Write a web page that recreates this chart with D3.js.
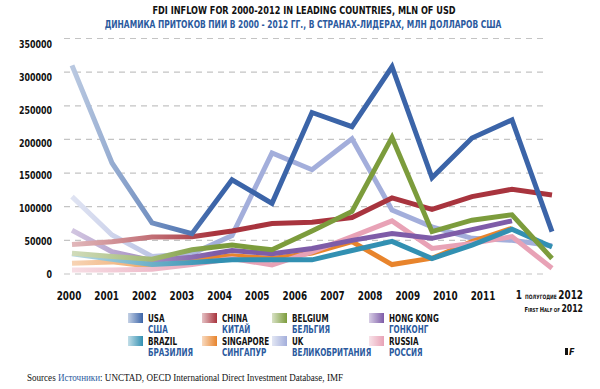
<!DOCTYPE html>
<html><head><meta charset="utf-8">
<script src="https://cdn.jsdelivr.net/npm/d3@7"></script>
<style>body{margin:0;background:#fff}svg{display:block}</style>
</head><body><svg id="c" width="600" height="389"></svg>
<script>
// ---- data ----
const years = ["2000","2001","2002","2003","2004","2005","2006","2007","2008","2009","2010","2011","2012"];
const xTickLabels = ["2000","2001","2002","2003","2004","2005","2006","2007","2008","2009","2010","2011"];
const yTicks = [0,50000,100000,150000,200000,250000,300000,350000];
const usa       = [310000,165000,76000,60000,140000,105000,240000,219000,308000,143000,202000,229000,63000];
const china     = [44000,48000,55000,55500,64000,75000,77000,84000,113000,96000,115000,126000,117500];
const belgium   = [31000,26000,22000,36000,43000,36000,64000,93000,203000,63000,80000,88000,23000];
const hongKong  = [65000,33000,20000,25000,35000,30000,38000,50000,60000,53000,66000,79000,null];
const brazil    = [30000,22000,14000,17000,21000,21000,21000,35000,48500,23000,43000,66500,40000];
const singapore = [16000,18000,11000,21000,27000,23000,31000,48000,14000,23500,48000,68000,null];
const uk        = [115000,58000,26000,30000,57000,180000,155000,201000,95000,70000,53000,50000,42000];
const russia    = [6000,6000,7000,14000,23000,13500,33000,55500,79000,38000,45500,55500,8500];
const namesEn = ["USA","CHINA","BELGIUM","HONG KONG","BRAZIL","SINGAPORE","UK","RUSSIA"];
const namesRu = ["США","КИТАЙ","БЕЛЬГИЯ","ГОНКОНГ","БРАЗИЛИЯ","СИНГАПУР","ВЕЛИКОБРИТАНИЯ","РОССИЯ"];
const colors  = ["#3b64a8","#a8343e","#7c9c3c","#7e5ca8","#3290b2","#e8842c","#a3aedb","#e8a2b6"];
const values  = [usa,china,belgium,hongKong,brazil,singapore,uk,russia];
// drawing order (bottom to top)
const drawOrder = [6,5,7,3,4,1,2,0];

const svg = d3.select("#c");
const COND = "'DejaVu Sans Condensed','DejaVu Sans',sans-serif";
const BLUE = "#2b5a9e";

const x = d3.scalePoint().domain(years).range([72,552]);
const xLab = d3.scalePoint().domain(xTickLabels).range([69,483]);
const y = d3.scaleLinear().domain([0,350000]).range([274,38.5]);
const yLab = d3.scaleLinear().domain([0,350000]).range([274,44]);

// title
svg.append("text").attr("transform","translate(304,13.5) scale(0.72,1)").attr("text-anchor","middle")
  .attr("font-family",COND).attr("font-weight","bold").attr("font-size",11)
  .attr("textLength",421).attr("lengthAdjust","spacingAndGlyphs").attr("fill","#111")
  .text("FDI INFLOW FOR 2000-2012 IN LEADING COUNTRIES, MLN OF USD");
svg.append("text").attr("transform","translate(303,27.5) scale(0.72,1)").attr("text-anchor","middle")
  .attr("font-family",COND).attr("font-weight","bold").attr("font-size",11)
  .attr("textLength",551).attr("lengthAdjust","spacingAndGlyphs").attr("fill",BLUE)
  .text("ДИНАМИКА ПРИТОКОВ ПИИ В 2000 - 2012 ГГ., В СТРАНАХ-ЛИДЕРАХ, МЛН ДОЛЛАРОВ США");

// gridlines
svg.append("g").selectAll("line").data(yTicks).join("line")
  .attr("x1",64).attr("x2",548).attr("y1",d=>y(d)).attr("y2",d=>y(d))
  .attr("stroke","#c4c4c4").attr("stroke-width",1.2).attr("stroke-dasharray","6,5");

// y labels
svg.append("g").selectAll("text").data(yTicks).join("text")
  .attr("transform",d=>`translate(52,${yLab(d)}) scale(0.8,1)`)
  .attr("dy","0.36em").attr("text-anchor","end")
  .attr("font-family",COND).attr("font-weight","bold").attr("font-size",11).attr("fill","#111")
  .text(d=>d);

// x labels
svg.append("g").selectAll("text").data(xTickLabels).join("text")
  .attr("transform",d=>`translate(${xLab(d)},300) scale(0.82,1)`).attr("text-anchor","middle")
  .attr("font-family",COND).attr("font-weight","bold").attr("font-size",12).attr("fill","#111")
  .text(d=>d);
const t1 = svg.append("text").attr("transform","translate(583,299) scale(0.82,1)").attr("text-anchor","end")
  .attr("font-family",COND).attr("font-weight","bold").attr("fill","#111");
t1.append("tspan").attr("font-size",12).text("1 ");
t1.append("tspan").attr("font-size",6).text("ПОЛУГОДИЕ ");
t1.append("tspan").attr("font-size",12).text("2012");
const t2 = svg.append("text").attr("transform","translate(583,312) scale(0.82,1)").attr("text-anchor","end")
  .attr("font-family",COND).attr("font-weight","bold").attr("fill","#111");
t2.append("tspan").attr("font-size",7).text("F");
t2.append("tspan").attr("font-size",5.5).text("IRST ");
t2.append("tspan").attr("font-size",7).text("H");
t2.append("tspan").attr("font-size",5.5).text("ALF OF ");
t2.append("tspan").attr("font-size",10.5).text("2012");

// gradients
const defs = svg.append("defs");
colors.forEach((c,i)=>{
  const g = defs.append("linearGradient").attr("id","lg"+i)
    .attr("gradientUnits","userSpaceOnUse").attr("x1",72).attr("x2",215).attr("y1",0).attr("y2",0);
  g.append("stop").attr("offset",0).attr("stop-color",d3.interpolateRgb("#fff",c)(0.35));
  g.append("stop").attr("offset",1).attr("stop-color",c);
  const s = defs.append("linearGradient").attr("id","sg"+i).attr("x1",0).attr("x2",1).attr("y1",0).attr("y2",0);
  s.append("stop").attr("offset",0).attr("stop-color",d3.interpolateRgb("#fff",c)(0.3));
  s.append("stop").attr("offset",1).attr("stop-color",c);
});

// lines
const line = d3.line().defined(d=>d!=null).x((d,i)=>x(years[i])).y(d=>y(d));
svg.append("g").selectAll("path").data(drawOrder).join("path")
  .attr("d",i=>line(values[i])).attr("fill","none")
  .attr("stroke",i=>`url(#lg${i})`).attr("stroke-width",5)
  .attr("stroke-linejoin","miter").attr("stroke-miterlimit",4);

// legend
const colX = [128,202,272,369];
const rowY = [313,336];
const lg = svg.append("g");
namesEn.forEach((n,i)=>{
  const cx = colX[i%4], ry = rowY[Math.floor(i/4)];
  lg.append("rect").attr("x",cx).attr("y",ry).attr("width",15).attr("height",10).attr("fill",`url(#sg${i})`);
  lg.append("text").attr("transform",`translate(${cx+20},${ry+8.5}) scale(0.8,1)`)
    .attr("font-family",COND).attr("font-weight","bold")
    .attr("font-size",10).attr("fill","#111").text(n);
  lg.append("text").attr("transform",`translate(${cx+20},${ry+19.5}) scale(0.8,1)`)
    .attr("font-family",COND).attr("font-weight","bold")
    .attr("font-size",10).attr("fill",BLUE).text(namesRu[i]);
});

// source
const src = svg.append("text").attr("x",27).attr("y",381).attr("font-family","'Liberation Serif',serif")
  .attr("font-size",9.5).attr("fill","#111").attr("textLength",316).attr("lengthAdjust","spacingAndGlyphs");
src.append("tspan").text("Sources ");
src.append("tspan").attr("fill",BLUE).text("Источники");
src.append("tspan").text(": UNCTAD, OECD International Direct Investment Database, IMF");

// logo
svg.append("rect").attr("x",565).attr("y",348).attr("width",3).attr("height",7).attr("fill","#111");
svg.append("text").attr("x",569).attr("y",355).attr("font-family",COND).attr("font-weight","bold")
  .attr("font-style","italic").attr("font-size",9).attr("fill","#111").text("F");
</script></body></html>
